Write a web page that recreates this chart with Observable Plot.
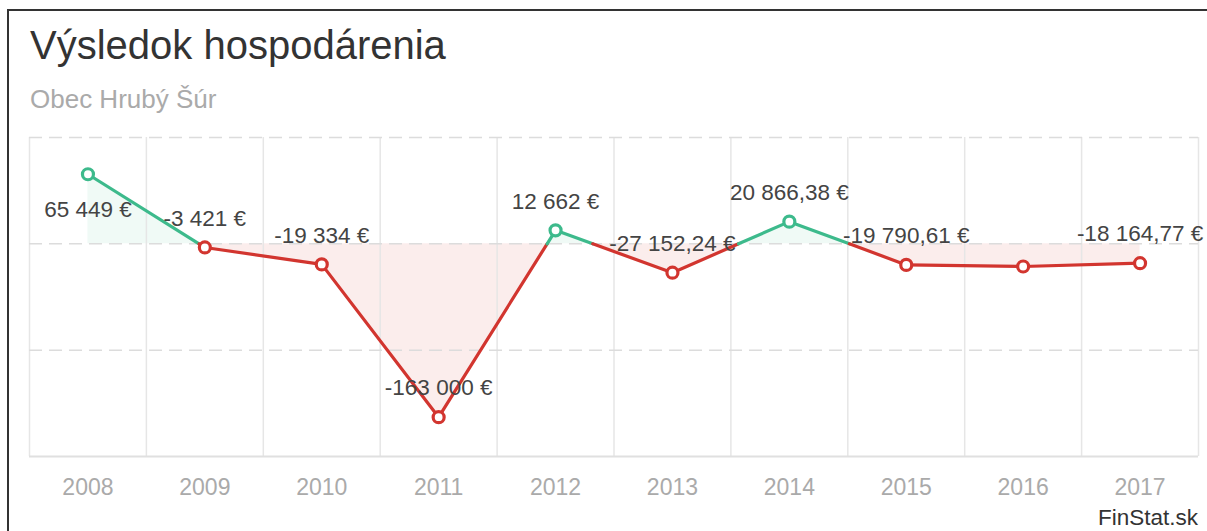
<!DOCTYPE html>
<html>
<head>
<meta charset="utf-8">
<script src="https://cdn.jsdelivr.net/npm/d3@7"></script>
<script src="https://cdn.jsdelivr.net/npm/@observablehq/plot@0.6"></script>
<style>
  html, body { margin: 0; padding: 0; background: #fff; overflow: hidden; }
  body { width: 1207px; height: 531px; position: relative; font-family: "Liberation Sans", Arial, sans-serif; }
  #lineTop { position: absolute; left: 7px; top: 9px; width: 1200px; height: 2px; background: #333; }
  #lineLeft { position: absolute; left: 7px; top: 9px; width: 2px; height: 522px; background: #333; }
  #title { position: absolute; left: 30px; top: 25px; font-size: 40px; line-height: 1; color: #333; white-space: nowrap; }
  #subtitle { position: absolute; left: 30px; top: 86px; font-size: 26px; line-height: 1; color: #aaa; white-space: nowrap; }
  #chart { position: absolute; left: 0; top: 120px; }
  #source { position: absolute; right: 9px; top: 507px; font-size: 22.5px; line-height: 1; color: #333; white-space: nowrap; }
</style>
</head>
<body>
<div id="lineTop"></div>
<div id="lineLeft"></div>
<div id="title">Výsledok hospodárenia</div>
<div id="subtitle">Obec Hrubý Šúr</div>
<div id="chart"></div>
<div id="source">FinStat.sk</div>
<script>
const years = [2008, 2009, 2010, 2011, 2012, 2013, 2014, 2015, 2016, 2017];
const values = [65449, -3421, -19334, -163000, 12662, -27152.24, 20866.38, -19790.61, -21300, -18164.77];
const labels = ["65 449 €", "-3 421 €", "-19 334 €", "-163 000 €", "12 662 €", "-27 152,24 €", "20 866,38 €", "-19 790,61 €", "", "-18 164,77 €"];
const gridY = [100000, 0, -100000];
const yDomain = [-200000, 100000];

const GREEN = "#3dba8c";
const RED = "#d2352f";

// points with zero crossings inserted
const pts = [];
for (let i = 0; i < years.length; i++) {
  pts.push({x: years[i], v: values[i]});
  if (i < years.length - 1 && Math.sign(values[i]) !== Math.sign(values[i + 1])) {
    const t = values[i] / (values[i] - values[i + 1]);
    pts.push({x: years[i] + t, v: 0});
  }
}
const segs = [];
for (let k = 0; k < pts.length - 1; k++) {
  const a = pts[k], b = pts[k + 1];
  const sign = (a.v + b.v) / 2 >= 0 ? "pos" : "neg";
  segs.push({x: a.x, v: a.v, seg: k, sign}, {x: b.x, v: b.v, seg: k, sign});
}
const idx = d3.range(years.length);
const bounds = d3.range(years.length + 1).map(i => years[0] - 0.5 + i);

const chart = Plot.plot({
  width: 1207,
  height: 411,
  marginTop: 17,
  marginBottom: 75,
  marginLeft: 29,
  marginRight: 9,
  x: {type: "linear", domain: [years[0] - 0.5, years[years.length - 1] + 0.5], axis: null},
  y: {domain: yDomain, axis: null},
  color: {domain: ["pos", "neg"], range: [GREEN, RED]},
  style: {fontFamily: "'Liberation Sans', Arial, sans-serif", background: "transparent", overflow: "visible"},
  marks: [
    Plot.areaY(pts, {x: "x", y1: 0, y2: d => Math.max(d.v, 0), fill: GREEN, fillOpacity: 0.08, curve: "linear"}),
    Plot.areaY(pts, {x: "x", y1: 0, y2: d => Math.min(d.v, 0), fill: RED, fillOpacity: 0.09, curve: "linear"}),
    Plot.ruleX(bounds, {x: d => d, y1: yDomain[1], y2: yDomain[0], stroke: "#e6e6e6", strokeWidth: 1.5}),
    Plot.ruleY(gridY, {y: d => d, stroke: "#dcdcdc", strokeWidth: 1.5, strokeDasharray: "13,7"}),
    Plot.ruleY([yDomain[0]], {y: d => d, stroke: "#e0e0e0", strokeWidth: 2}),
    Plot.line(segs, {x: "x", y: "v", z: "seg", stroke: "sign", strokeWidth: 3.2, strokeLinecap: "round", strokeLinejoin: "round"}),
    Plot.dot(idx, {x: i => years[i], y: i => values[i], r: 5.5, fill: "white", stroke: i => values[i] >= 0 ? "pos" : "neg", strokeWidth: 3.2}),
    Plot.text(idx.filter(i => i === 0), {x: i => years[i], y: i => values[i], text: i => labels[i], dy: 36, fontSize: 22.5, fill: "#444", lineAnchor: "middle"}),
    Plot.text(idx.filter(i => i > 0 && labels[i]), {x: i => years[i], y: i => values[i], text: i => labels[i], dy: -29, fontSize: 22.5, fill: "#444", lineAnchor: "middle"}),
    Plot.text(years, {x: d => d, y: yDomain[0], text: d => String(d), dy: 31, fontSize: 23, fill: "#aaa", lineAnchor: "middle"})
  ]
});
document.getElementById("chart").appendChild(chart);
</script>
</body>
</html>
